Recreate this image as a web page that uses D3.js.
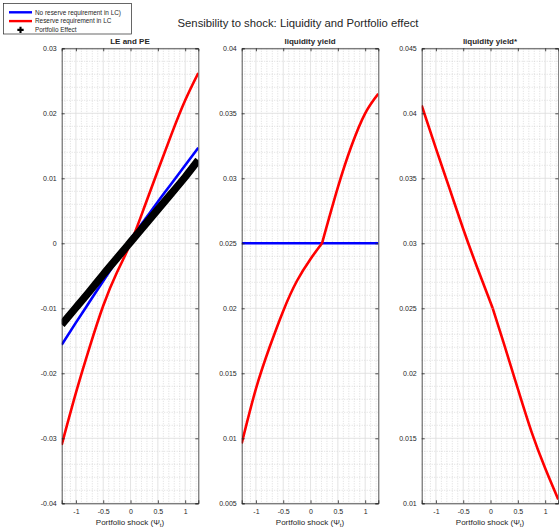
<!DOCTYPE html>
<html>
<head>
<meta charset="utf-8">
<script src="https://cdn.jsdelivr.net/npm/d3@7"></script>
<style>
body{margin:0;background:#fff;}
text{font-family:"Liberation Sans",Arial,Helvetica,sans-serif;fill:#262626;}
</style>
</head>
<body>
<svg></svg>
<script>
// shock grid (x values) and the series
var shock=[-1.26,-1,-0.75,-0.5,-0.25,0,0.25,0.5,0.75,1,1.24]
var lePeNoReserve=[-0.0156,-0.0122,-0.0090,-0.0058,-0.0026,0.0006,0.0035,0.0064,0.0092,0.0120,0.0147]
var lePeReserve=[-0.0310,-0.0230,-0.0160,-0.0096,-0.0045,0.0000,0.0055,0.0112,0.0168,0.0220,0.0262]
var portfolioEffect=[-0.0125,-0.0099,-0.0074,-0.0048,-0.0023,0.0002,0.0027,0.0052,0.0077,0.0102,0.0128]

// liquidity yield: red has a kink where it meets the blue level
var yieldShock=[-1.26,1.24]
var yieldNoReserve=[0.025,0.025]
var yieldShockLow=[-1.26,-1,-0.75,-0.5,-0.25,0,0.21]
var yieldReserveLow=[0.0096,0.0138,0.0170,0.0198,0.0221,0.0238,0.0250]
var yieldShockHigh=[0.21,0.5,0.75,1,1.24]
var yieldReserveHigh=[0.0250,0.0293,0.0325,0.0350,0.0365]

// liquidity yield*
var starShockLow=[-1.26,-1,-0.75,-0.5,-0.25,0.04]
var starReserveLow=[0.0406,0.0373,0.0342,0.0311,0.0282,0.0250]
var starShockHigh=[0.04,0.25,0.5,0.75,1,1.24]
var starReserveHigh=[0.0250,0.0222,0.0188,0.0155,0.0127,0.0103]

var xTicks=[-1,-0.5,0,0.5,1]
var titles=["LE and PE","liquidity yield","liquidity yield*"]
var yDomains=[[-0.04,0.03],[0.005,0.04],[0.01,0.045]]
var yTickSteps=[0.01,0.005,0.005]
var legendLabels=["No reserve requirement in LC)","Reserve requirement in LC","Portfolio Effect"]

var screen={width:559,height:530}
var svg=d3.select("svg")
          .attr("width",screen.width)
          .attr("height",screen.height)

svg.append("text")
   .attr("x",298)
   .attr("y",27)
   .attr("text-anchor","middle")
   .style("font-size","11.3px")
   .text("Sensibility to shock: Liquidity and Portfolio effect")

var panelLeft=[61.7,241.7,421.7]
var panelW=136.6, plotTop=48.3, plotBottom=503.3

var drawPanel=function(i,series)
{
  var x=d3.scaleLinear().domain([-1.26,1.24]).range([panelLeft[i],panelLeft[i]+panelW])
  var y=d3.scaleLinear().domain(yDomains[i]).range([plotBottom,plotTop])
  var step=yTickSteps[i]
  var yTicks=d3.range(Math.round((yDomains[i][1]-yDomains[i][0])/step)+1)
               .map(function(k){return +(yDomains[i][0]+k*step).toFixed(4)})
  var g=svg.append("g")

  // minor grid
  var xMinor=d3.range(-12,13).filter(function(k){return k%5!=0}).map(function(k){return k/10})
  var yMinor=d3.range(0,Math.round((yDomains[i][1]-yDomains[i][0])/(step/5))+1)
               .filter(function(k){return k%5!=0})
               .map(function(k){return yDomains[i][0]+k*step/5})
  g.selectAll(".xm").data(xMinor).enter().append("line")
   .attr("x1",function(d){return x(d)}).attr("x2",function(d){return x(d)})
   .attr("y1",plotTop).attr("y2",plotBottom)
   .attr("stroke","#c8c8c8").attr("stroke-width",0.6).attr("stroke-dasharray","1,1.5")
  g.selectAll(".ym").data(yMinor).enter().append("line")
   .attr("y1",function(d){return y(d)}).attr("y2",function(d){return y(d)})
   .attr("x1",x.range()[0]).attr("x2",x.range()[1])
   .attr("stroke","#c8c8c8").attr("stroke-width",0.6).attr("stroke-dasharray","1,1.5")

  // major grid
  g.selectAll(".xg").data(xTicks).enter().append("line")
   .attr("x1",function(d){return x(d)}).attr("x2",function(d){return x(d)})
   .attr("y1",plotTop).attr("y2",plotBottom)
   .attr("stroke","#dcdcdc").attr("stroke-width",0.8)
  g.selectAll(".yg").data(yTicks).enter().append("line")
   .attr("y1",function(d){return y(d)}).attr("y2",function(d){return y(d)})
   .attr("x1",x.range()[0]).attr("x2",x.range()[1])
   .attr("stroke","#dcdcdc").attr("stroke-width",0.8)

  // lines
  var clipId="clip"+i
  svg.append("clipPath").attr("id",clipId).append("rect")
     .attr("x",x.range()[0]).attr("y",plotTop).attr("width",panelW).attr("height",plotBottom-plotTop)
  series.forEach(function(s)
  {
    var line=d3.line()
               .x(function(d){return x(d[0])})
               .y(function(d){return y(d[1])})
               .curve(d3.curveNatural)
    g.append("path")
     .attr("d",line(d3.zip(s.xs,s.ys)))
     .attr("fill","none")
     .attr("stroke",s.color)
     .attr("stroke-width",s.width)
     .attr("stroke-linejoin","round")
     .attr("clip-path","url(#"+clipId+")")
  })

  // axes, ticks inward on all sides
  var fmt=function(d){return String(+d.toFixed(4))}
  g.append("g").attr("transform","translate(0,"+plotBottom+")")
   .call(d3.axisBottom(x).tickValues(xTicks).tickSize(-3).tickPadding(6).tickFormat(fmt))
  g.append("g").attr("transform","translate(0,"+plotTop+")")
   .call(d3.axisTop(x).tickValues(xTicks).tickSize(-3).tickFormat(""))
  g.append("g").attr("transform","translate("+x.range()[0]+",0)")
   .call(d3.axisLeft(y).tickValues(yTicks).tickSize(-3).tickPadding(5).tickFormat(fmt))
  g.append("g").attr("transform","translate("+x.range()[1]+",0)")
   .call(d3.axisRight(y).tickValues(yTicks).tickSize(-3).tickFormat(""))
  g.selectAll(".domain").attr("stroke","#262626").attr("stroke-width",0.8)
  g.selectAll(".tick line").attr("stroke","#262626").attr("stroke-width",0.8)
  g.selectAll(".tick text").style("font-size","7px").attr("fill","#262626")
   .style("font-family","'Liberation Sans',Arial,sans-serif")

  svg.append("text")
     .attr("x",x.range()[0]+panelW/2).attr("y",43.5)
     .attr("text-anchor","middle")
     .style("font-size","8px").style("font-weight","bold")
     .text(titles[i])

  var lab=svg.append("text")
     .attr("x",x.range()[0]+panelW/2).attr("y",525)
     .attr("text-anchor","middle")
     .style("font-size","8px")
  lab.append("tspan").text("Portfolio shock (\u03A8")
  lab.append("tspan").attr("dy",2).style("font-size","6px").text("t")
  lab.append("tspan").attr("dy",-2).text(")")
}

drawPanel(0,[
  {xs:shock,ys:lePeNoReserve,color:"#0000ff",width:2.6},
  {xs:shock,ys:lePeReserve,color:"#ff0000",width:2.6},
  {xs:shock,ys:portfolioEffect,color:"#000000",width:7.5}
])
drawPanel(1,[
  {xs:yieldShock,ys:yieldNoReserve,color:"#0000ff",width:2.6},
  {xs:yieldShockLow,ys:yieldReserveLow,color:"#ff0000",width:2.6},
  {xs:yieldShockHigh,ys:yieldReserveHigh,color:"#ff0000",width:2.6}
])
drawPanel(2,[
  {xs:starShockLow,ys:starReserveLow,color:"#ff0000",width:2.6},
  {xs:starShockHigh,ys:starReserveHigh,color:"#ff0000",width:2.6}
])

// legend
var legend=svg.append("g")
legend.append("rect")
      .attr("x",3.5).attr("y",3.5).attr("width",128).attr("height",30.5)
      .attr("fill","#fff").attr("stroke","#262626").attr("stroke-width",0.7)
var legendColors=["#0000ff","#ff0000","#000000"]
var rows=legend.selectAll(".row").data(legendLabels).enter().append("g")
               .attr("transform",function(d,k){return "translate(0,"+(12.3+k*8.8)+")"})
rows.filter(function(d,k){return k<2}).append("line")
    .attr("x1",9).attr("x2",32).attr("y1",0).attr("y2",0)
    .attr("stroke",function(d,k){return legendColors[k]}).attr("stroke-width",2.4)
rows.filter(function(d,k){return k==2}).append("path")
    .attr("d",d3.symbol().type(d3.symbolCross).size(22))
    .attr("transform","translate(20.5,0)")
    .attr("fill","#000")
rows.append("text")
    .attr("x",35).attr("y",2.3)
    .style("font-size","6.4px")
    .text(function(d){return d})
</script>
</body>
</html>
